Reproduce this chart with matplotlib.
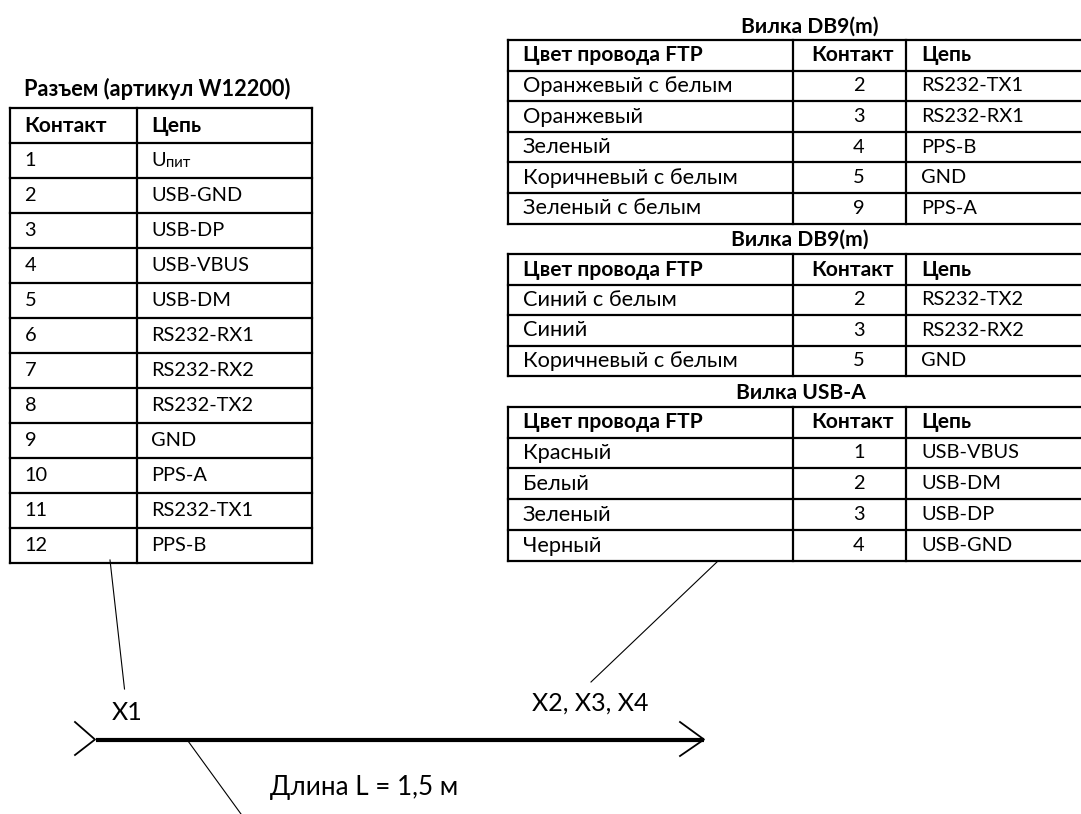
import matplotlib
matplotlib.use('Agg')
import matplotlib.pyplot as plt

plt.rcParams['font.family'] = ['Lato', 'Open Sans', 'DejaVu Sans']

# left table
x1_title = 'Разъем (артикул W12200)'
x1_header = ['Контакт', 'Цепь']
x1_pins = ['1', '2', '3', '4', '5', '6', '7', '8', '9', '10', '11', '12']
x1_nets = ['U_пит', 'USB-GND', 'USB-DP', 'USB-VBUS', 'USB-DM', 'RS232-RX1',
           'RS232-RX2', 'RS232-TX2', 'GND', 'PPS-A', 'RS232-TX1', 'PPS-B']

# right tables
ftp_header = ['Цвет провода FTP', 'Контакт', 'Цепь']

db1_title = 'Вилка DB9(m)'
db1_colors = ['Оранжевый с белым', 'Оранжевый', 'Зеленый', 'Коричневый с белым', 'Зеленый с белым']
db1_pins = ['2', '3', '4', '5', '9']
db1_nets = ['RS232-TX1', 'RS232-RX1', 'PPS-B', 'GND', 'PPS-A']

db2_title = 'Вилка DB9(m)'
db2_colors = ['Синий с белым', 'Синий', 'Коричневый с белым']
db2_pins = ['2', '3', '5']
db2_nets = ['RS232-TX2', 'RS232-RX2', 'GND']

usb_title = 'Вилка USB-A'
usb_colors = ['Красный', 'Белый', 'Зеленый', 'Черный']
usb_pins = ['1', '2', '3', '4']
usb_nets = ['USB-VBUS', 'USB-DM', 'USB-DP', 'USB-GND']

FS = 14.4      # latin and digits
FS_RU = 15.7   # cyrillic runs wider in the original font
FS_B = 15.1
LW = 1.6

fig = plt.figure(figsize=(10.81, 8.14), dpi=100)
ax = fig.add_axes([0, 0, 1, 1])
ax.set_xlim(0, 1081)
ax.set_ylim(814, 0)
ax.axis('off')


def draw_table(edges, top, bottom, header, columns, head_x, cell_x, aligns, sizes):
    nrows = len(columns[0]) + 1
    h = (bottom - top) / nrows
    for i in range(nrows + 1):
        ax.plot([edges[0], edges[-1]], [top + i * h] * 2, color='black', lw=LW, solid_capstyle='projecting')
    for e in edges:
        ax.plot([e, e], [top, bottom], color='black', lw=LW, solid_capstyle='projecting')
    for c in range(len(columns)):
        ax.text(head_x[c], top + h / 2, header[c], ha='left', va='center', fontsize=FS_B, fontweight='bold')
        for r, val in enumerate(columns[c]):
            y = top + (r + 1.5) * h
            if '_' in val:
                # subscript part of the supply name
                base, sub = val.split('_')
                t = ax.text(cell_x[c], y, base, ha=aligns[c], va='center', fontsize=sizes[c])
                ax.annotate(sub, xy=(1, 0), xycoords=t, xytext=(0, -1), textcoords='offset points',
                            ha='left', va='bottom', fontsize=FS_RU * 0.68)
            else:
                ax.text(cell_x[c], y, val, ha=aligns[c], va='center', fontsize=sizes[c])


draw_table([10, 137, 312], 108, 563, x1_header, [x1_pins, x1_nets],
           [24, 151.5], [24.5, 151.5], ['left', 'left'], [FS, FS])
ax.text(24.5, 89, x1_title, ha='left', va='center', fontsize=FS_RU, fontweight='bold')

# the right tables run off the edge of the picture
right_edges = [508, 793, 906, 1095]
head3 = [523, 811, 921]
cell3 = [523, 859, 921]
al3 = ['left', 'center', 'left']
sz3 = [FS_RU, FS, FS]
draw_table(right_edges, 40, 223.7, ftp_header, [db1_colors, db1_pins, db1_nets], head3, cell3, al3, sz3)
ax.text(810, 27, db1_title, ha='center', va='center', fontsize=FS_B, fontweight='bold')
draw_table(right_edges, 254.3, 376, ftp_header, [db2_colors, db2_pins, db2_nets], head3, cell3, al3, sz3)
ax.text(800, 240, db2_title, ha='center', va='center', fontsize=FS_B, fontweight='bold')
draw_table(right_edges, 406.7, 561, ftp_header, [usb_colors, usb_pins, usb_nets], head3, cell3, al3, sz3)
ax.text(801, 393, usb_title, ha='center', va='center', fontsize=FS_B, fontweight='bold')

# cable with leaders
ax.plot([96, 704], [739.5, 739.5], color='black', lw=3.0, solid_capstyle='butt')
ax.plot([75, 95, 75], [722, 739.5, 755], color='black', lw=1.3)
ax.plot([680, 704, 680], [722, 739.5, 756], color='black', lw=1.3)
ax.plot([110, 124.5], [560, 689], color='black', lw=0.8)
ax.plot([718, 591], [561, 682], color='black', lw=0.8)
ax.plot([188, 241], [741, 814], color='black', lw=0.8)

ax.text(112, 713, 'X1', ha='left', va='center', fontsize=18)
ax.text(532, 703, 'X2, X3, X4', ha='left', va='center', fontsize=18)
ax.text(270, 787, 'Длина L = 1,5 м', ha='left', va='center', fontsize=18.7)

fig.savefig('out.png', dpi=100)
